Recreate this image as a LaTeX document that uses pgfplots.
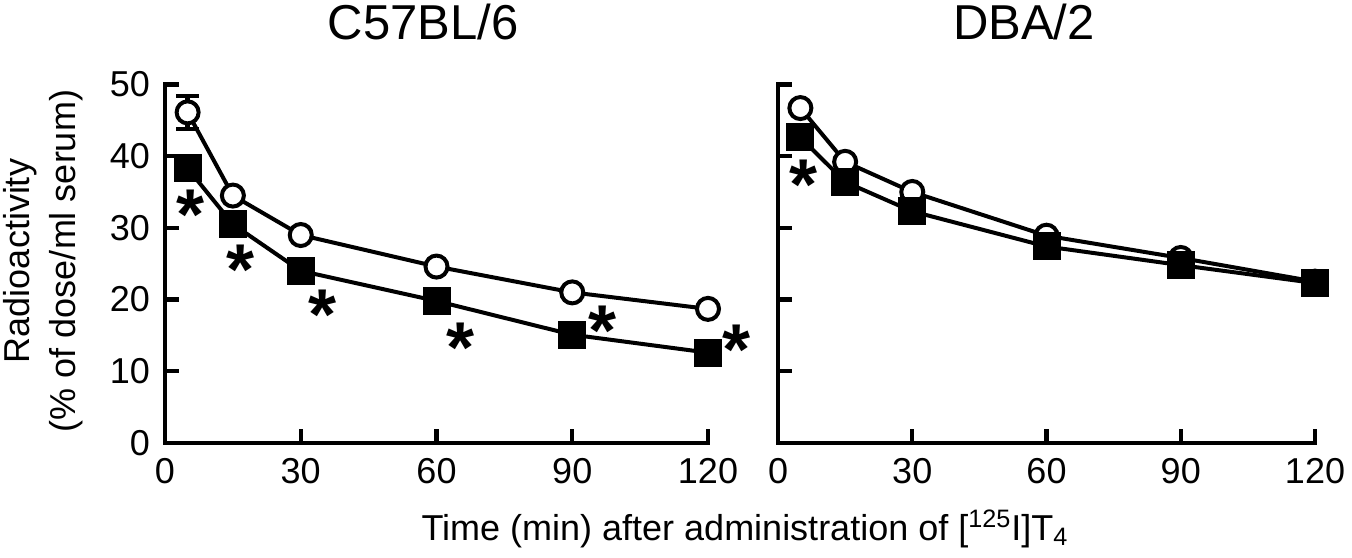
\documentclass[border=0pt]{standalone}
\usepackage{fontspec}
\setmainfont{Liberation Sans}
\usepackage{pgfplots}
\pgfplotsset{compat=1.18}

\pgfplotsset{
  panel/.style={
    scale only axis,
    height=179.3pt,
    xmin=0, xmax=120, ymin=0, ymax=50,
    xtick={0,30,60,90,120},
    ytick={0,10,20,30,40,50},
    axis x line=bottom, axis y line=left,
    axis line style={-, line width=2.2pt, line cap=rect},
    tick style={line width=2.2pt, black},
    tick align=inside,
    major tick length=7pt,
    ticklabel style={font=\fontsize{18}{18}\selectfont},
    xticklabel style={yshift=-4pt},
    yticklabel style={xshift=-4pt},
    /pgf/number format/assume math mode=true,
    clip=false,
  },
  ctrl/.style={black, line width=2pt, mark=*, mark size=5.5pt,
    mark options={fill=white, line width=2pt}},
  trt/.style={black, line width=2pt, mark=square*, mark size=6pt,
    mark options={fill=black, line width=2pt}},
  star/.style={only marks, black, mark=text, text mark={*},
    text mark as node=true,
    text mark style={font=\bfseries\fontsize{36}{36}\selectfont, inner sep=0pt, yshift=-6.5pt}},
}

\begin{document}
\begin{tikzpicture}
\useasboundingbox (-82.5pt,-57pt) rectangle (593.5pt,221.5pt);

% C57BL/6
\begin{axis}[panel, width=271.5pt]
\addplot[black, line width=2pt, mark=none,
  error bars/.cd, y dir=both, y explicit,
  error bar style={line width=2.2pt},
  error mark options={rotate=90, mark size=5.75pt, line width=2.2pt}]
  coordinates {(5,46.1) +- (0,2.3)};
\addplot[ctrl] coordinates {
  (5,46.1) (15,34.5) (30,29.0) (60,24.6) (90,21.0) (120,18.7)
};
\addplot[trt] coordinates {
  (5,38.3) (15,30.5) (30,24.0) (60,19.8) (90,15.1) (120,12.6)
};
\addplot[star] coordinates {
  (5.7,33.7) (16.6,26.0) (34.8,19.7) (65.3,15.1) (96.7,17.4) (126.3,14.8)
};
\end{axis}

% DBA/2
\begin{axis}[panel, width=268.5pt, at={(306.5pt,0pt)}, yticklabels={}]
\addplot[ctrl] coordinates {
  (5,46.7) (15,39.2) (30,35.0) (60,28.9) (90,25.8) (120,22.5)
};
\addplot[trt] coordinates {
  (5,42.6) (15,36.4) (30,32.3) (60,27.4) (90,24.8) (120,22.3)
};
\addplot[star] coordinates {(5.7,37.8)};
\end{axis}

\node[anchor=base, font=\fontsize{24.5}{24.5}\selectfont] at (129pt,201.5pt) {C57BL/6};
\node[anchor=base, font=\fontsize{24.5}{24.5}\selectfont] at (429.5pt,201.5pt) {DBA/2};
\node[rotate=90, align=center, font=\fontsize{18}{23}\selectfont] at (-61pt,91pt)
  {Radioactivity\\(\% of dose/ml serum)};
\node[anchor=base, font=\fontsize{18}{18}\selectfont] at (290pt,-48.5pt)
  {Time (min) after administration of [\textsuperscript{125}I]T\textsubscript{4}};
\end{tikzpicture}
\end{document}
